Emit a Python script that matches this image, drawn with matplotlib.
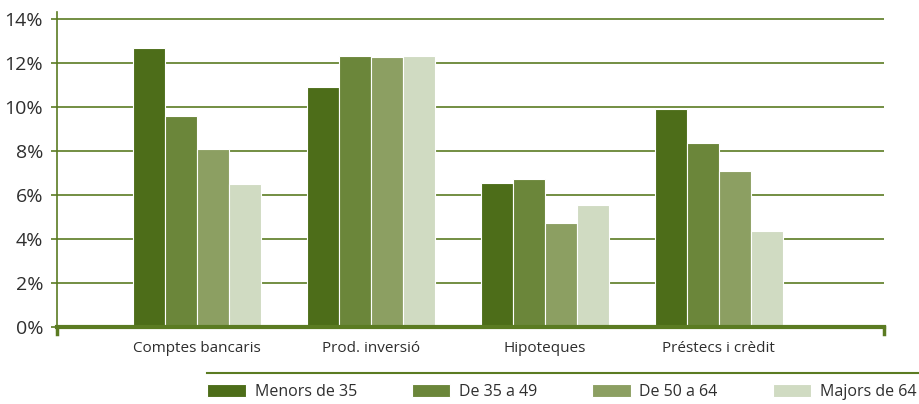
import numpy as np
import matplotlib
matplotlib.use("Agg")
import matplotlib.pyplot as plt
from matplotlib.lines import Line2D

plt.rcParams['font.family'] = ['Open Sans', 'DejaVu Sans']

categories = ["Comptes bancaris", "Prod. inversió", "Hipoteques", "Préstecs i crèdit"]
series = ["Menors de 35", "De 35 a 49", "De 50 a 64", "Majors de 64"]
menors_35 = [12.65, 10.9, 6.55, 9.88]
de_35_49 = [9.6, 12.3, 6.72, 8.35]
de_50_64 = [8.08, 12.25, 4.7, 7.08]
majors_64 = [6.48, 12.3, 5.53, 4.35]
values = [menors_35, de_35_49, de_50_64, majors_64]
colors = ["#4d6d19", "#6b863a", "#8c9f62", "#d0dbc2"]
green = "#5b7b22"
txt = "#2e2e2e"

fig = plt.figure(figsize=(9.2, 4.04), dpi=100)
ax = fig.add_axes([57 / 920, 1 - 327 / 404, (884 - 57) / 920, (327 - 12) / 404])

x = np.arange(len(categories))
w = 0.184
for i, (vals, c, name) in enumerate(zip(values, colors, series)):
    ax.bar(x + (i - 1.5) * w, vals, w, color=c, edgecolor="white", linewidth=0.8,
           label=name, zorder=3)

ax.set_xlim(-0.805, 3.95)
ax.set_ylim(0, 14.3)
ax.set_yticks(np.arange(0, 15, 2))
ax.set_yticklabels([f"{v}%" for v in range(0, 15, 2)], fontsize=14, color=txt)
ax.yaxis.grid(True, color=green, lw=1.2, zorder=1)
ax.set_xticks(x)
ax.set_xticklabels(categories, fontsize=11, color=txt)
ax.tick_params(axis="x", length=0, pad=10)
ax.tick_params(axis="y", length=4, color=green, width=1.2, pad=6)

for s in ["top", "right"]:
    ax.spines[s].set_visible(False)
ax.spines["left"].set_color(green)
ax.spines["left"].set_linewidth(1.2)
ax.spines["bottom"].set_color(green)
ax.spines["bottom"].set_linewidth(3)
ax.spines["bottom"].set_zorder(4)

# end ticks under the baseline
for xe in ax.get_xlim():
    ax.plot([xe, xe], [0, -0.3], color=green, lw=2.5, clip_on=False, zorder=4)

# line above legend
fig.add_artist(Line2D([207 / 920, 1], [1 - 373 / 404] * 2, color=green, lw=1.5))

fig.legend(loc="center left", bbox_to_anchor=(201 / 920, 1 - 392 / 404), ncol=4,
           frameon=False, fontsize=11.5, handlelength=2.4, handleheight=0.8,
           handletextpad=0.55, columnspacing=3.45, labelcolor=txt, borderaxespad=0)

fig.savefig("out.png", dpi=100)
